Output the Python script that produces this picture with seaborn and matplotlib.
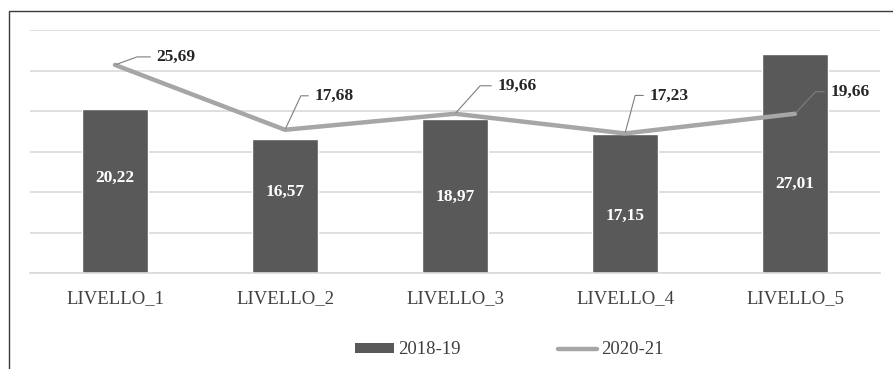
import matplotlib
matplotlib.use("Agg")
import matplotlib.pyplot as plt
from matplotlib.patches import Rectangle, Patch
from matplotlib.lines import Line2D
import seaborn as sns
import pandas as pd

# Data
categories = ["LIVELLO_1", "LIVELLO_2", "LIVELLO_3", "LIVELLO_4", "LIVELLO_5"]
values_2018_19 = [20.22, 16.57, 18.97, 17.15, 27.01]
values_2020_21 = [25.69, 17.68, 19.66, 17.23, 19.66]
series_names = ["2018-19", "2020-21"]

# Layout: heights of the value labels inside the bars, and offsets (px) of line labels
bar_label_y = [11.8, 10.0, 9.4, 7.0, 11.0]
line_label_offsets = [(61, 8), (49, 34), (62, 28), (44, 38), (55, 22)]
line_label_angles = [20, 65, 48, 75, 47]

BAR_COLOR = "#595959"
LINE_COLOR = "#A6A6A6"
GRID_COLOR = "#D9D9D9"
TEXT_COLOR = "#404040"

sns.set_theme(style="white")
plt.rcParams["font.family"] = ["Liberation Serif", "DejaVu Serif"]

df = pd.DataFrame({"livello": categories,
                   series_names[0]: values_2018_19,
                   series_names[1]: values_2020_21})

W, H = 893, 369
fig = plt.figure(figsize=(W / 100, H / 100), dpi=100)
ax = fig.add_axes([30 / W, 1 - 273 / H, 850 / W, 243 / H])

sns.barplot(data=df, x="livello", y=series_names[0], color=BAR_COLOR,
            saturation=1, width=0.39, ax=ax, zorder=2)
sns.lineplot(data=df, x="livello", y=series_names[1], color=LINE_COLOR,
             linewidth=3.2, ax=ax, zorder=3, sort=False)

ax.set_xlim(-0.5, len(categories) - 0.5)
ax.set_ylim(0, 30)
ax.set_yticks(range(0, 31, 5))
ax.set_yticklabels([])
ax.tick_params(axis="y", length=0)
ax.tick_params(axis="x", length=0, pad=12, labelsize=13.5, labelcolor=TEXT_COLOR)
ax.grid(axis="y", color=GRID_COLOR, linewidth=1.2, zorder=0)
ax.set_axisbelow(True)
ax.set_xlabel("")
ax.set_ylabel("")
for side in ["top", "right", "left"]:
    ax.spines[side].set_visible(False)
ax.spines["bottom"].set_color(GRID_COLOR)
ax.spines["bottom"].set_linewidth(1.2)
if ax.get_legend() is not None:
    ax.get_legend().remove()

def fmt(v):
    return f"{v:.2f}".replace(".", ",")

# Value labels inside the bars
for i, (v, ly) in enumerate(zip(values_2018_19, bar_label_y)):
    ax.text(i, ly, fmt(v), ha="center", va="center", color="white",
            fontsize=12.5, fontweight="bold", zorder=4)

# Value labels for the line, with leader lines
for i, (v, off, ang) in enumerate(zip(values_2020_21, line_label_offsets, line_label_angles)):
    ax.annotate(fmt(v), xy=(i, v), xytext=off, textcoords="offset pixels",
                ha="center", va="center", fontsize=12.5, fontweight="bold",
                color="#262626", zorder=5,
                arrowprops=dict(arrowstyle="-", color="#7F7F7F", lw=0.8,
                                shrinkA=2, shrinkB=1,
                                connectionstyle=f"angle,angleA=0,angleB={ang},rad=0"))

# Legend
handles = [Patch(facecolor=BAR_COLOR, edgecolor="none"),
           Line2D([0], [0], color=LINE_COLOR, linewidth=3.2)]
fig.legend(handles, series_names, loc="center", bbox_to_anchor=(509 / W, 1 - 350 / H),
           ncol=2, frameon=False, fontsize=13.5, handlelength=2.1, handleheight=0.45,
           handletextpad=0.2, columnspacing=5.2, labelcolor=TEXT_COLOR)

# Frame around the chart area
fig.patches.append(Rectangle((8.5 / W, -0.2), 1.2, 1.2 + (1 - 11 / H) - 1.0,
                             transform=fig.transFigure, fill=False,
                             edgecolor="#3A3A3A", linewidth=1.0, clip_on=False))

fig.savefig("out.png", dpi=100, facecolor="white")
